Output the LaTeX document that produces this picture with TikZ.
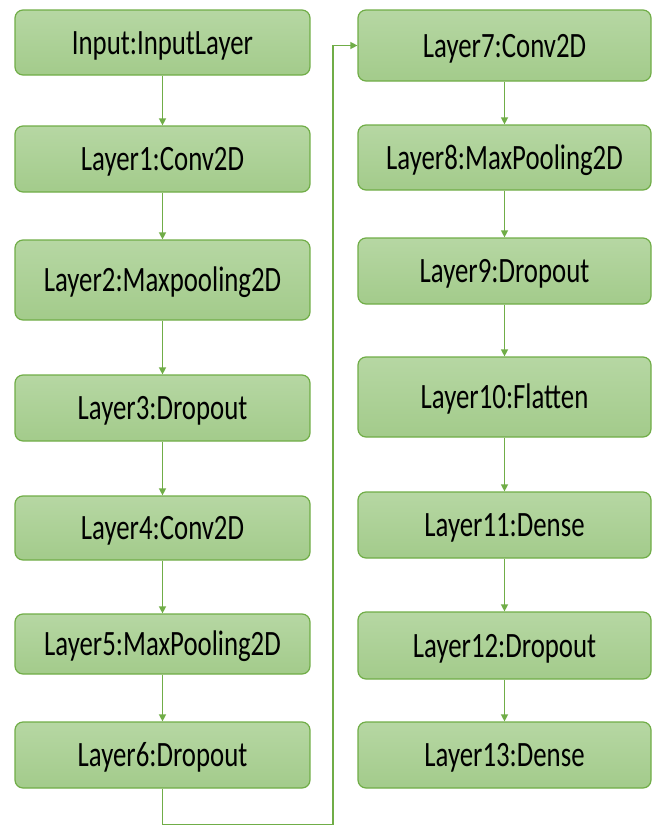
\documentclass[tikz,border=0pt]{standalone}
\usepackage{fontspec}
\setmainfont{Carlito}
\usepackage{graphicx}
\usetikzlibrary{arrows.meta}
\definecolor{boxtop}{RGB}{182,215,163}
\definecolor{boxbot}{RGB}{163,203,139}
\definecolor{boxline}{RGB}{112,173,71}
\newcommand{\tallt}[1]{\scalebox{1}[1.33]{#1}}
\tikzset{layer/.style={rectangle,rounded corners=8pt,draw=boxline,line width=1.2pt,
    top color=boxtop,bottom color=boxbot,inner sep=0pt,text height=23pt,text depth=0pt,
    font=\fontsize{26.8}{30}\selectfont,text=black},
  arrow/.style={-{Triangle[length=7pt,width=7pt]},draw=boxline,line width=1.3pt}}

\begin{document}
\begin{tikzpicture}[x=1pt,y=-1pt]
  \path[use as bounding box] (0,0) rectangle (661,825);
  % left column
  \foreach \n/\y/\h/\t in {l0/42.5/65/Input:InputLayer,l1/159/66/Layer1:Conv2D,
      l2/280/80/Layer2:Maxpooling2D,l3/408/66/Layer3:Dropout,l4/528/64/Layer4:Conv2D,
      l5/644/60/Layer5:MaxPooling2D,l6/755/66/Layer6:Dropout}{
    \node[layer,minimum width=295pt,minimum height=\h pt] (\n) at (162.5,\y) {\tallt{\t}};
  }
  % right column
  \foreach \n/\y/\h/\t in {l7/45.5/71/Layer7:Conv2D,l8/157.5/65/Layer8:MaxPooling2D,
      l9/271/66/Layer9:Dropout,l10/397/80/Layer10:Flatten,l11/525/66/Layer11:Dense,
      l12/645.5/67/Layer12:Dropout,l13/755/66/Layer13:Dense}{
    \node[layer,minimum width=293pt,minimum height=\h pt] (\n) at (504.5,\y) {\tallt{\t}};
  }
  \foreach \a/\b in {l0/l1,l1/l2,l2/l3,l3/l4,l4/l5,l5/l6,l7/l8,l8/l9,l9/l10,l10/l11,l11/l12,l12/l13}{
    \draw[arrow] (\a.south)--(\b.north);
  }
  % back up to the second column
  \coordinate (turn) at (333,824.5);
  \draw[arrow] (l6.south) |- (turn) |- (l7.west);
\end{tikzpicture}
\end{document}
